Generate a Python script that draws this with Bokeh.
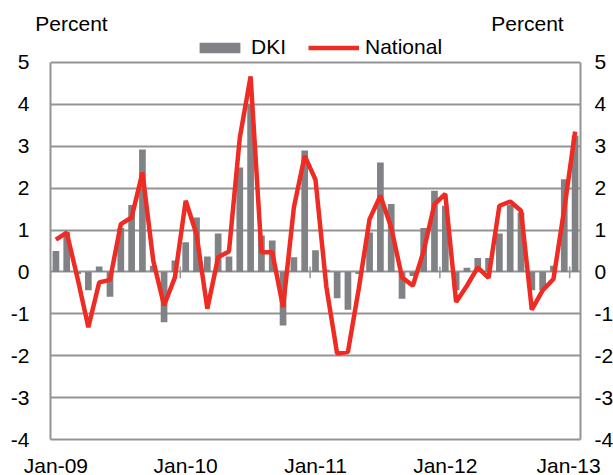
from bokeh.plotting import figure
from bokeh.models import (Range1d, FixedTicker, LinearAxis, Legend, LegendItem,
                          ColumnDataSource)
from bokeh.embed import file_html
from bokeh.resources import INLINE

# ---- data ----
months = list(range(49))  # Jan-09 .. Jan-13, monthly
dki = [0.5, 0.95, -0.05, -0.44, 0.13, -0.59, 1.05, 1.6, 2.92, 0.15, -1.2, 0.27,
       0.71, 1.3, 0.37, 0.92, 0.37, 2.49, 4.0, 0.87, 0.75, -1.28, 0.35, 2.9,
       0.52, 0.05, -0.63, -0.9, -0.05, 0.94, 2.61, 1.62, -0.64, -0.1, 1.05, 1.94,
       1.58, -0.44, 0.1, 0.33, 0.33, 0.92, 1.6, 1.42, -0.44, -0.43, 0.15, 2.21,
       3.25]
national = [0.77, 0.94, -0.15, -1.32, -0.25, -0.19, 1.14, 1.3, 2.37, 0.27, -0.8, -0.13,
            1.7, 0.9, -0.88, 0.35, 0.49, 3.2, 4.67, 0.47, 0.47, -0.84, 1.54, 2.77,
            2.2, -0.35, -1.95, -1.91, -0.4, 1.26, 1.82, 1.06, -0.13, -0.33, 0.5, 1.62,
            1.86, -0.72, -0.33, 0.11, -0.14, 1.58, 1.68, 1.46, -0.9, -0.44, -0.17, 1.5,
            3.35]
year_starts = [0, 12, 24, 36, 48]
x_labels = ["Jan-09", "Jan-10", "Jan-11", "Jan-12", "Jan-13"]
y_ticks = [-4, -3, -2, -1, 0, 1, 2, 3, 4, 5]
unit_label = "Percent"

FONT = "Liberation Sans"
FS = "21px"
GRAY = "#808285"
RED = "#EE2C24"
GRID = "#949494"
Y_TOP = 5.62  # headroom above 5 for the legend

centers = [m + 0.5 for m in months]
src = ColumnDataSource(dict(x=centers, dki=dki, nat=national))

p = figure(frame_width=530, frame_height=403, output_backend="svg",
           toolbar_location=None,
           x_range=Range1d(0, len(months)), y_range=Range1d(-4, Y_TOP),
           min_border_left=50, min_border_right=33, min_border_top=36,
           min_border_bottom=36, x_axis_location=None, y_axis_location=None)
p.outline_line_color = None
p.background_fill_color = "white"
p.border_fill_color = "white"

# grid
p.xgrid.visible = False
p.ygrid.ticker = FixedTicker(ticks=y_ticks)
p.ygrid.grid_line_color = GRID
p.ygrid.grid_line_width = 2

def style_axis(ax, standoff, line=True):
    ax.axis_line_color = GRID if line else None
    ax.axis_line_width = 2
    ax.major_tick_line_color = None
    ax.minor_tick_line_color = None
    ax.major_tick_out = 0
    ax.major_tick_in = 0
    ax.minor_tick_out = 0
    ax.minor_tick_in = 0
    ax.major_label_text_font = FONT
    ax.major_label_text_font_size = FS
    ax.major_label_text_color = "black"
    ax.major_label_standoff = standoff

y_over = {t: str(t) for t in y_ticks}
yl = LinearAxis(ticker=FixedTicker(ticks=y_ticks), bounds=(-4, 5))
yl.major_label_overrides = y_over
style_axis(yl, 21)
p.add_layout(yl, "left")
yr = LinearAxis(ticker=FixedTicker(ticks=y_ticks), bounds=(-4, 5))
yr.major_label_overrides = y_over
style_axis(yr, 14)
p.add_layout(yr, "right")

label_pos = [s + 0.5 for s in year_starts[:-1]] + [year_starts[-1] - 0.1]
xb = LinearAxis(ticker=FixedTicker(ticks=label_pos))
xb.major_label_overrides = {pos: lab for pos, lab in zip(label_pos, x_labels)}
style_axis(xb, 14)
p.add_layout(xb, "below")

# "Percent" captions over both value axes
cap_pos = [1.94, 44.1]
xt = LinearAxis(ticker=FixedTicker(ticks=cap_pos))
xt.major_label_overrides = {pos: unit_label for pos in cap_pos}
style_axis(xt, 2, line=False)
p.add_layout(xt, "above")

# bars
bars = p.vbar(x="x", top="dki", bottom=0, width=0.62, source=src,
              fill_color=GRAY, line_color=None)

# small ticks on the zero line at year boundaries
p.segment(x0=year_starts, y0=[0.13] * len(year_starts),
          x1=year_starts, y1=[-0.15] * len(year_starts),
          line_color=GRID, line_width=1.5)

line = p.line(x="x", y="nat", source=src, line_color=RED, line_width=4.5)

legend = Legend(items=[LegendItem(label="DKI", renderers=[bars]),
                       LegendItem(label="National", renderers=[line])],
                orientation="horizontal", location=(144, 380))
legend.border_line_color = None
legend.background_fill_alpha = 0
legend.padding = 0
legend.margin = 0
legend.spacing = 22
legend.label_standoff = 6
legend.glyph_width = 51
legend.glyph_height = 13
legend.label_text_font = FONT
legend.label_text_font_size = FS
legend.label_text_color = "black"
p.add_layout(legend, "center")

open("out.html", "w").write(file_html(p, INLINE))
